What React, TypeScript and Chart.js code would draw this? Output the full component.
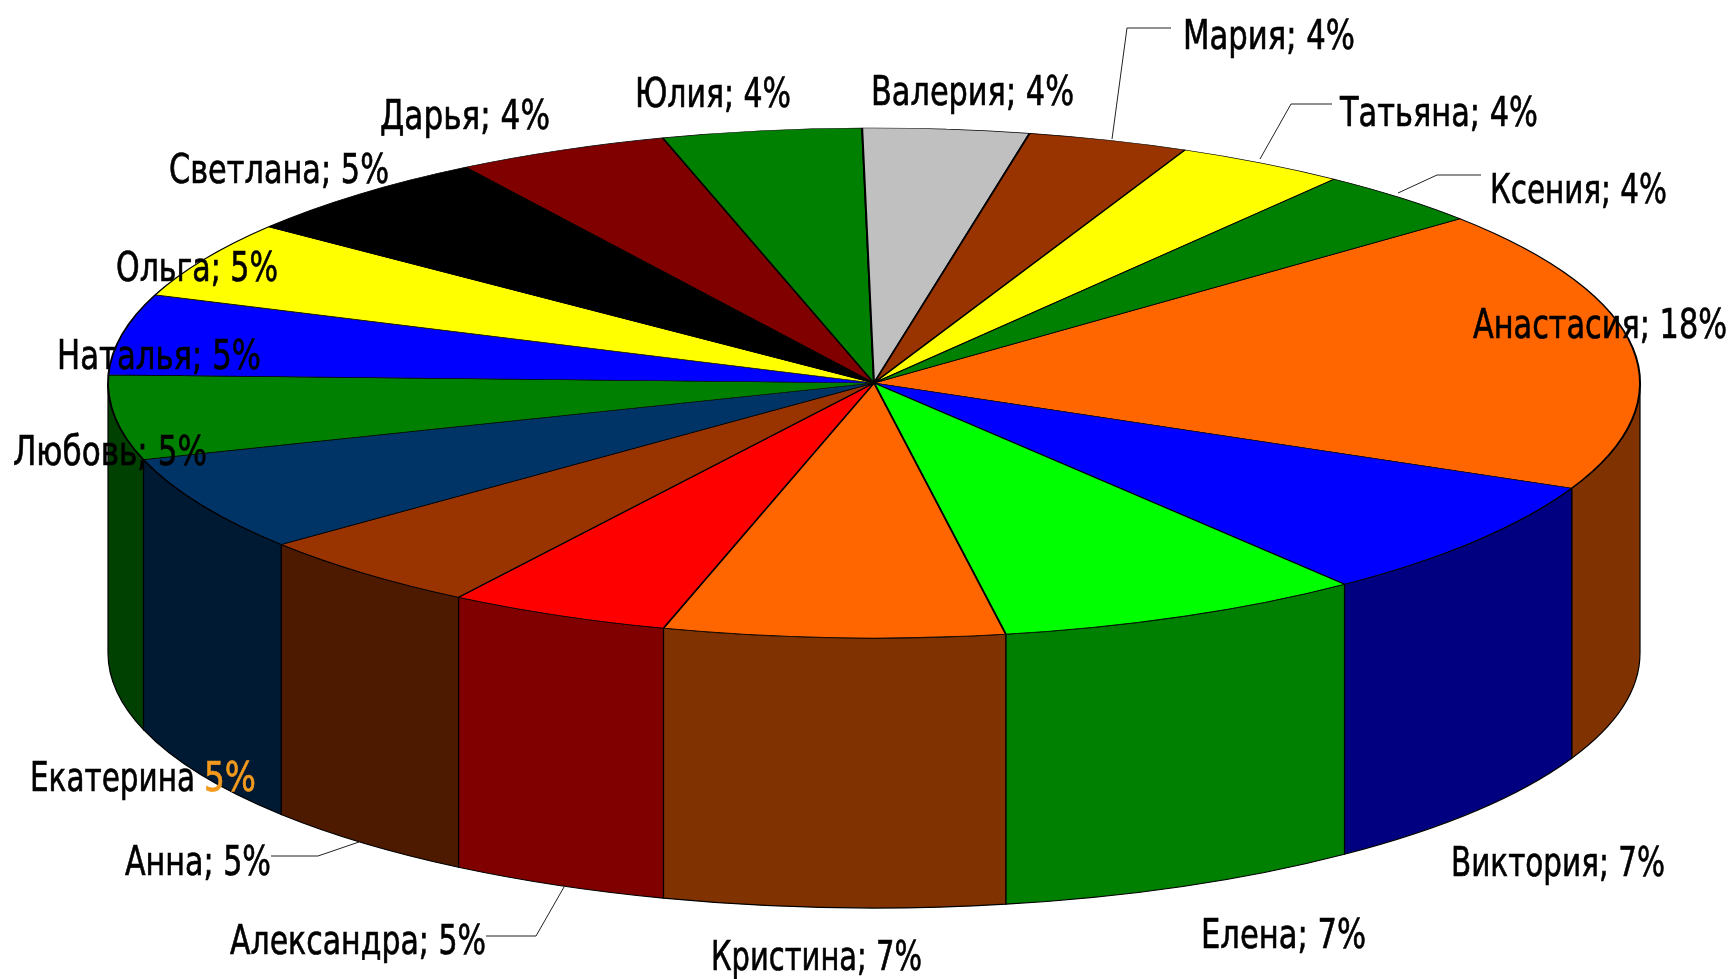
import React, { useEffect, useRef } from "react";
import { Chart, registerables } from "chart.js";

Chart.register(...registerables);

const names = ["Анастасия", "Виктория", "Елена", "Кристина", "Александра", "Анна", "Екатерина", "Любовь", "Наталья", "Ольга", "Светлана", "Дарья", "Юлия", "Валерия", "Мария", "Татьяна", "Ксения"];
const shares = [17.9, 7.7, 7.77, 7.18, 4.69, 4.96, 6.05, 5.37, 5.1, 4.88, 5.55, 4.5, 4.2, 3.5, 3.4, 3.6, 3.6];
const percents = ["18%", "7%", "7%", "7%", "5%", "5%", "5%", "5%", "5%", "5%", "5%", "4%", "4%", "4%", "4%", "4%", "4%"];
const colors = ["#FF6600", "#0000FF", "#00FF00", "#FF6600", "#FF0000", "#993300", "#003366", "#008000", "#0000FF", "#FFFF00", "#000000", "#800000", "#008000", "#C0C0C0", "#993300", "#FFFF00", "#008000"];

// Layout of the picture, not data
const START_DEG = 49.9;
const RADIUS_X = 766;
const SQUASH = 255 / 766;
const DEPTH = 270;
const FONT = '41px "DejaVu Sans"';
// x, fitted width, baseline per slice
const labelBoxes: number[][] = [
  [1473, 254, 338], [1451, 214, 876], [1201, 165, 948], [711, 211, 970], [230, 256, 954], [125, 146, 875],
  [30, 165, 791], [13, 194, 465], [57, 204, 369], [116, 162, 281], [169, 220, 183], [380, 170, 129],
  [635, 156, 107], [871, 203, 105], [1183, 172, 49], [1340, 198, 126], [1490, 177, 203],
];
const leaders: number[][][] = [
  [[1171, 28], [1127, 28], [1112, 139]],
  [[1332, 104], [1291, 104], [1260, 159]],
  [[1481, 175], [1437, 175], [1398, 193]],
  [[271, 856], [318, 856], [359, 842]],
  [[486, 936], [536, 936], [564, 887]],
];

function darken(hex: string) {
  const n = parseInt(hex.slice(1), 16);
  const c = (v: number) => Math.round(v * 0.5);
  return `rgb(${c((n >> 16) & 255)},${c((n >> 8) & 255)},${c(n & 255)})`;
}

const piePlugin = {
  id: "tiltedPie",
  beforeDatasetsDraw(chart: any) {
    const ctx = chart.ctx;
    const arcs = chart.getDatasetMeta(0).data;
    const cx = arcs[0].x;
    const cy = arcs[0].y;
    const ry = RADIUS_X * SQUASH;
    ctx.save();
    arcs.forEach((arc: any, i: number) => {
      for (const k of [-2 * Math.PI, 0, 2 * Math.PI]) {
        const a0 = Math.max(arc.startAngle, k);
        const a1 = Math.min(arc.endAngle, k + Math.PI);
        if (a1 <= a0) continue;
        ctx.beginPath();
        ctx.ellipse(cx, cy, RADIUS_X, ry, 0, a0, a1);
        ctx.ellipse(cx, cy + DEPTH, RADIUS_X, ry, 0, a1, a0, true);
        ctx.closePath();
        ctx.fillStyle = darken(colors[i]);
        ctx.fill();
        ctx.strokeStyle = "#000";
        ctx.lineWidth = 1.2;
        ctx.stroke();
      }
    });
    ctx.restore();
    ctx.save();
    ctx.translate(cx, cy);
    ctx.scale(1, SQUASH);
    ctx.translate(-cx, -cy);
  },
  afterDatasetsDraw(chart: any) {
    chart.ctx.restore();
  },
  afterDraw(chart: any) {
    const ctx = chart.ctx;
    ctx.save();
    ctx.strokeStyle = "#222";
    ctx.lineWidth = 1;
    leaders.forEach((pts) => {
      ctx.beginPath();
      pts.forEach((p, j) => (j ? ctx.lineTo(p[0], p[1]) : ctx.moveTo(p[0], p[1])));
      ctx.stroke();
    });
    ctx.font = FONT;
    ctx.textAlign = "left";
    ctx.textBaseline = "alphabetic";
    ctx.fillStyle = "#000";
    ctx.strokeStyle = "#000";
    ctx.lineWidth = 0.7;
    names.forEach((name, i) => {
      const [x, w, y] = labelBoxes[i];
      if (name === "Екатерина") {
        ctx.fillText(name, x, y, w);
        ctx.strokeText(name, x, y, w);
        ctx.fillStyle = "#F39A1E";
        ctx.strokeStyle = "#F39A1E";
        ctx.fillText(percents[i], x + w + 9, y, 52);
        ctx.strokeText(percents[i], x + w + 9, y, 52);
        ctx.fillStyle = "#000";
        ctx.strokeStyle = "#000";
      } else {
        const text = `${name}; ${percents[i]}`;
        ctx.fillText(text, x, y, w);
        ctx.strokeText(text, x, y, w);
      }
    });
    ctx.restore();
  },
};

export default function App() {
  const ref = useRef<HTMLCanvasElement>(null);
  useEffect(() => {
    const chart = new Chart(ref.current!, {
      type: "pie",
      data: {
        labels: names,
        datasets: [{ data: shares, backgroundColor: colors, borderColor: "#000", borderWidth: 2, radius: RADIUS_X } as any],
      },
      options: {
        responsive: false,
        animation: false,
        rotation: START_DEG,
        layout: { padding: { left: 15, right: 0, top: 0, bottom: 213 } },
        plugins: { legend: { display: false }, tooltip: { enabled: false } },
      } as any,
      plugins: [piePlugin],
    });
    return () => chart.destroy();
  }, []);
  return (
    <canvas
      ref={ref}
      width={1733}
      height={979}
      style={{ position: "absolute", left: 0, top: 0, width: 1733, height: 979, display: "block", background: "#fff" }}
    />
  );
}
